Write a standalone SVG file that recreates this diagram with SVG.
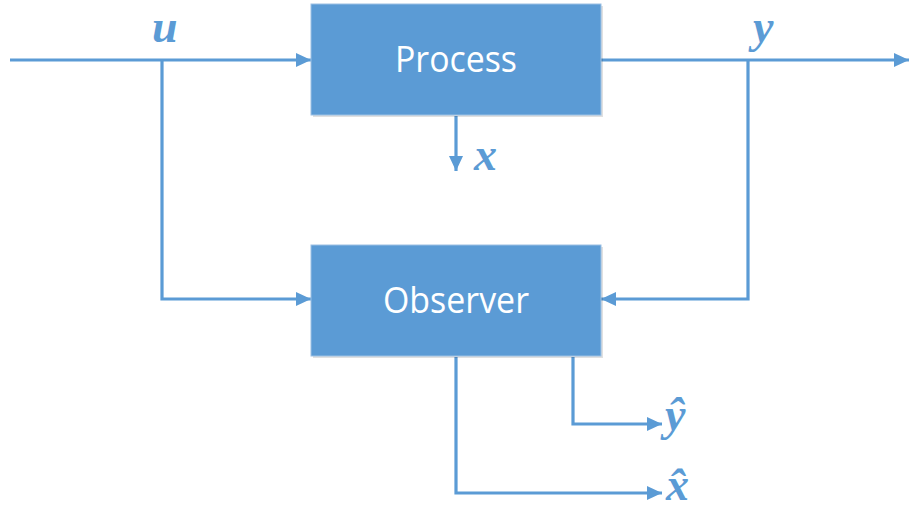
<svg xmlns="http://www.w3.org/2000/svg" width="909" height="511" viewBox="0 0 909 511">
<style>
.box{fill:#5B9BD5;stroke:#9CC0E3;stroke-width:1}
.shadow{fill:#000;opacity:0.12}
.lbl{font-family:"Open Sans","Noto Sans",sans-serif;font-size:37px;fill:#fff;text-anchor:middle}
.var{font-family:"Liberation Serif","DejaVu Serif",serif;font-style:italic;font-weight:bold;font-size:46px;fill:#5B9BD5}
.wire{fill:none;stroke:#5B9BD5;stroke-width:3.2;stroke-linejoin:miter}
</style>
<defs>
<marker id="ah" viewBox="0 0 15 14" refX="15" refY="7" markerWidth="15" markerHeight="14" markerUnits="userSpaceOnUse" orient="auto">
<path d="M0,0 L15,7 L0,14 Z" fill="#5B9BD5"/>
</marker>
</defs>
<g id="connectors">
<path class="wire" d="M10,60 H311" marker-end="url(#ah)"/>
<path class="wire" d="M601,60 H909" marker-end="url(#ah)"/>
<path class="wire" d="M162,60 V299 H311" marker-end="url(#ah)"/>
<path class="wire" d="M748,60 V299 H601" marker-end="url(#ah)"/>
<path class="wire" d="M456,116 V171" marker-end="url(#ah)"/>
<path class="wire" d="M573,357 V424 H662" marker-end="url(#ah)"/>
<path class="wire" d="M456,357 V493 H662" marker-end="url(#ah)"/>
</g>
<g id="process">
<rect class="shadow" x="313" y="6" width="290" height="111"/>
<rect class="box" x="311" y="4" width="290" height="111"/>
<text class="lbl" x="456" y="72" textLength="122" lengthAdjust="spacingAndGlyphs">Process</text>
</g>
<g id="observer">
<rect class="shadow" x="313" y="247" width="290" height="111"/>
<rect class="box" x="311" y="245" width="290" height="111"/>
<text class="lbl" x="456" y="313" textLength="146" lengthAdjust="spacingAndGlyphs">Observer</text>
</g>
<g id="labels">
<text class="var" x="152" y="42">u</text>
<text class="var" x="753" y="42">y</text>
<text class="var" x="474" y="170">x</text>
<text class="var" x="665" y="430">ŷ</text>
<text class="var" x="666" y="500">x̂</text>
</g>
</svg>
